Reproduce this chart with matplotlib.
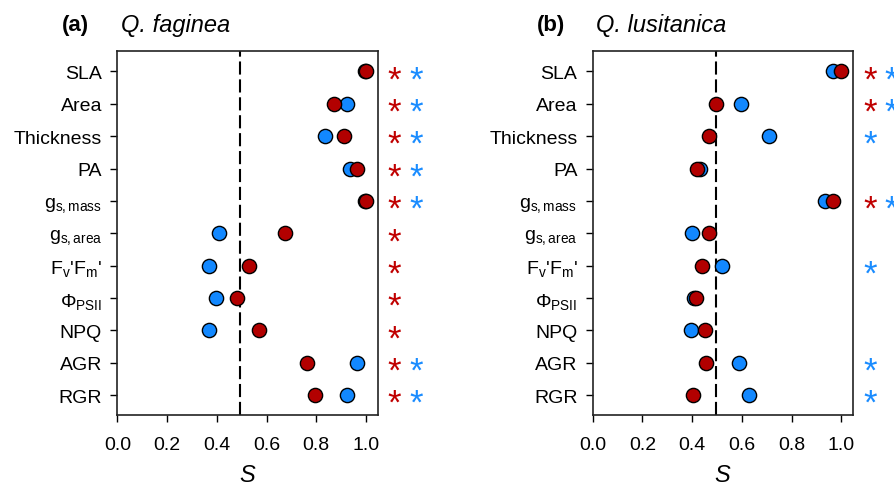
import matplotlib
matplotlib.use("Agg")
import matplotlib.pyplot as plt

plt.rcParams['font.family'] = 'Liberation Sans'
plt.rcParams['mathtext.fontset'] = 'custom'
plt.rcParams['mathtext.rm'] = 'Liberation Sans'
plt.rcParams['mathtext.it'] = 'Liberation Sans:italic'
plt.rcParams['mathtext.bf'] = 'Liberation Sans:bold'

traits = ['SLA', 'Area', 'Thickness', 'PA', r'g$_\mathrm{s,mass}$', r'g$_\mathrm{s,area}$',
          r"F$_\mathrm{v}$'F$_\mathrm{m}$'", r'$\Phi_\mathrm{PSII}$', 'NPQ', 'AGR', 'RGR']

# Q. faginea
fag_red = [1.0, 0.87, 0.913, 0.963, 0.999, 0.676, 0.53, 0.481, 0.568, 0.763, 0.795]
fag_blue = [0.995, 0.922, 0.836, 0.936, 0.995, 0.408, 0.37, 0.397, 0.37, 0.964, 0.922]
fag_sig_red = [1, 1, 1, 1, 1, 1, 1, 1, 1, 1, 1]
fag_sig_blue = [1, 1, 1, 1, 1, 0, 0, 0, 0, 1, 1]

# Q. lusitanica
lus_red = [1.0, 0.496, 0.469, 0.419, 0.966, 0.468, 0.441, 0.417, 0.45, 0.456, 0.403]
lus_blue = [0.966, 0.597, 0.711, 0.433, 0.933, 0.399, 0.519, 0.406, 0.394, 0.59, 0.63]
lus_sig_red = [1, 1, 0, 0, 1, 0, 0, 0, 0, 0, 0]
lus_sig_blue = [1, 1, 1, 0, 1, 0, 1, 0, 0, 1, 1]

ref_line = 0.495

red = '#B20000'
blue = '#1288FF'
star_red = '#C00000'
star_blue = '#1A8CFF'

fig = plt.figure(figsize=(8.95, 4.85), dpi=100)
ax_a = fig.add_axes([0.1311, 0.1429, 0.2912, 0.7493])
ax_b = fig.add_axes([0.6622, 0.1429, 0.2912, 0.7493])

panels = [(ax_a, fag_red, fag_blue, fag_sig_red, fag_sig_blue, '(a)', 'Q. faginea'),
          (ax_b, lus_red, lus_blue, lus_sig_red, lus_sig_blue, '(b)', 'Q. lusitanica')]

ypos = list(range(len(traits)))
star_x = [12, 27.5]  # offset points right of the axes for 1st / 2nd asterisk

for ax, vr, vb, sr, sb, tag, species in panels:
    ax.axvline(ref_line, color='black', lw=1.5, linestyle=(0, (6.3, 2.3)), zorder=1)
    ax.scatter(vb, ypos, s=105, color=blue, edgecolor='black', linewidth=1.0, zorder=3)
    ax.scatter(vr, ypos, s=105, color=red, edgecolor='black', linewidth=1.0, zorder=4)

    ax.set_xlim(0, 1.048)
    ax.set_ylim(10.6, -0.62)
    ax.set_xticks([0, 0.2, 0.4, 0.6, 0.8, 1.0])
    ax.set_xticklabels(['0.0', '0.2', '0.4', '0.6', '0.8', '1.0'])
    ax.set_yticks(ypos)
    ax.set_yticklabels(traits)
    ax.tick_params(axis='both', direction='out', length=5, width=1.0, labelsize=14)
    ax.tick_params(axis='x', pad=10)
    ax.tick_params(axis='y', pad=6)
    for sp in ax.spines.values():
        sp.set_linewidth(1.2)
        sp.set_color('#222222')
    ax.set_xlabel('$S$', fontsize=17, labelpad=8)

    # significance asterisks to the right of the panel
    for i in ypos:
        marks = []
        if sr[i]:
            marks.append(star_red)
        if sb[i]:
            marks.append(star_blue)
        for k, c in enumerate(marks):
            ax.annotate('*', xy=(1, i), xycoords=('axes fraction', 'data'),
                        xytext=(star_x[k], -6), textcoords='offset points',
                        ha='center', va='center', fontsize=25, color=c,
                        annotation_clip=False)

    bb = ax.get_position()
    fig.text(bb.x0 - 0.062, 0.948, tag, fontsize=16, fontweight='bold', va='center')
    fig.text(bb.x0 + 0.004, 0.948, species, fontsize=17, fontstyle='italic', va='center')

fig.savefig('out.png', dpi=100)
